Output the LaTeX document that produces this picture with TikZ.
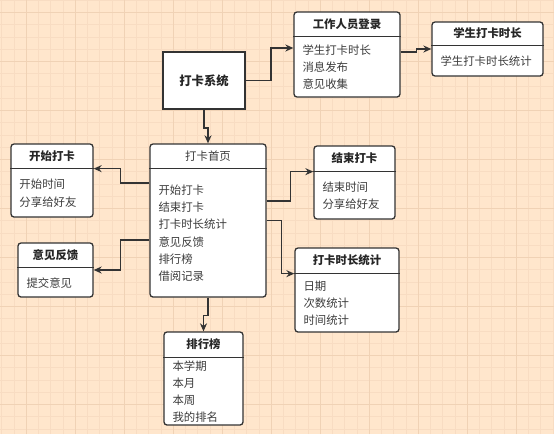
\documentclass[tikz,border=0pt]{standalone}
\usepackage{fontspec}
\setmainfont{Noto Sans CJK SC}
\usetikzlibrary{arrows.meta, positioning, calc}
\definecolor{cpeach}{HTML}{FFE6CC}
\definecolor{cgridlo}{HTML}{F8DCC2}
\definecolor{cgridhi}{HTML}{F0D2B5}
\definecolor{cline}{HTML}{333333}
\definecolor{ctext}{HTML}{3C3C3C}
\tikzset{
  every picture/.style={line width=1.3pt},
  card/.style={draw=cline, fill=white, rounded corners=3pt, line width=1.3pt, inner sep=0pt},
  cardhead/.style={font=\fontsize{11.4pt}{14pt}\selectfont\bfseries, text=black!85, minimum height=24pt, inner sep=0pt},
  cardbody/.style={font=\fontsize{11.4pt}{17.3pt}\selectfont, text=ctext, align=left, anchor=west, inner sep=0pt, xshift=8.5pt},
  rule/.style={draw=cline, line width=1.3pt},
  sysbox/.style={draw=cline, fill=white, line width=2pt, font=\fontsize{12.3pt}{15pt}\selectfont\bfseries, text=black!85},
  arrow/.style={-{Stealth[length=8pt, width=7pt]}, draw=cline, line width=1.3pt},
}

\begin{document}
\begin{tikzpicture}[x=1pt, y=-1pt]
  % canvas with grid
  \fill[cpeach] (0,0) rectangle (554,434);
  \useasboundingbox (0,0) rectangle (554,434);
  \begin{scope}[shift={(26.3,12.4)}]
    \draw[cgridlo, line width=0.7pt, step=12.25pt] (-26.3,421.6) grid (527.7,-12.4);
    \draw[cgridhi, line width=0.8pt, step=49pt] (-26.3,421.6) grid (527.7,-12.4);
  \end{scope}
  % system
  \node[sysbox, minimum width=82pt, minimum height=57pt] (sys) at (204,80.5) {打卡系统};
  % staff login
  \node[card, minimum width=106pt, minimum height=85pt] (login) at (347,54.5) {};
  \node[cardhead, below=0pt of login.north] (login-t) {工作人员登录};
  \draw[rule] (login.west |- login-t.south) -- (login.east |- login-t.south);
  \node[cardbody] (login-b) at ($(login.west |- login-t.south)!.5!(login.south west)$) {学生打卡时长\\消息发布\\意见收集};
  % student duration
  \node[card, minimum width=111pt, minimum height=54pt] (stat) at (487.5,49) {};
  \node[cardhead, minimum height=23pt, below=0pt of stat.north] (stat-t) {学生打卡时长};
  \draw[rule] (stat.west |- stat-t.south) -- (stat.east |- stat-t.south);
  \node[cardbody] (stat-b) at ($(stat.west |- stat-t.south)!.5!(stat.south west)$) {学生打卡时长统计};
  % home page
  \node[card, minimum width=116pt, minimum height=153pt] (home) at (208,220.5) {};
  \node[cardhead, font=\fontsize{11.4pt}{14pt}\selectfont, text=ctext, below=0pt of home.north] (home-t) {打卡首页};
  \draw[rule] (home.west |- home-t.south) -- (home.east |- home-t.south);
  \node[cardbody] (home-b) at ($(home.west |- home-t.south)!.5!(home.south west)$) {开始打卡\\结束打卡\\打卡时长统计\\意见反馈\\排行榜\\借阅记录};
  % start
  \node[card, minimum width=82pt, minimum height=73pt] (start) at (52,180.5) {};
  \node[cardhead, below=0pt of start.north] (start-t) {开始打卡};
  \draw[rule] (start.west |- start-t.south) -- (start.east |- start-t.south);
  \node[cardbody] (start-b) at ($(start.west |- start-t.south)!.5!(start.south west)$) {开始时间\\分享给好友};
  % feedback
  \node[card, minimum width=75pt, minimum height=54pt] (fb) at (55.5,270) {};
  \node[cardhead, below=0pt of fb.north] (fb-t) {意见反馈};
  \draw[rule] (fb.west |- fb-t.south) -- (fb.east |- fb-t.south);
  \node[cardbody] (fb-b) at ($(fb.west |- fb-t.south)!.5!(fb.south west)$) {提交意见};
  % end
  \node[card, minimum width=81pt, minimum height=73pt] (end) at (354.5,182.5) {};
  \node[cardhead, minimum height=25pt, below=0pt of end.north] (end-t) {结束打卡};
  \draw[rule] (end.west |- end-t.south) -- (end.east |- end-t.south);
  \node[cardbody] (end-b) at ($(end.west |- end-t.south)!.5!(end.south west)$) {结束时间\\分享给好友};
  % duration stats
  \node[card, minimum width=104pt, minimum height=84pt] (dur) at (347,290) {};
  \node[cardhead, minimum height=25pt, below=0pt of dur.north] (dur-t) {打卡时长统计};
  \draw[rule] (dur.west |- dur-t.south) -- (dur.east |- dur-t.south);
  \node[cardbody] (dur-b) at ($(dur.west |- dur-t.south)!.5!(dur.south west)$) {日期\\次数统计\\时间统计};
  % ranking
  \node[card, minimum width=79pt, minimum height=93pt] (rank) at (203.5,378.5) {};
  \node[cardhead, minimum height=25pt, below=0pt of rank.north] (rank-t) {排行榜};
  \draw[rule] (rank.west |- rank-t.south) -- (rank.east |- rank-t.south);
  \node[cardbody] (rank-b) at ($(rank.west |- rank-t.south)!.5!(rank.south west)$) {本学期\\本月\\本周\\我的排名};
  % connectors
  \draw[arrow] (sys.east) -- ++(25,0) |- ([yshift=6.5pt]login.west);
  \draw[arrow] ([yshift=2.5pt]login.east) -- ++(16,0) |- (stat.west);
  \draw[arrow] (sys.south) -- ++(0,18) -| (home.north);
  \draw[arrow] ([yshift=37.5pt]home.west) -- ++(-29,0) |- (start.east |- start-t.south);
  \draw[arrow] ([yshift=-19.5pt]home.west) -- ++(-29,0) |- (fb.east);
  \draw[arrow] ([yshift=19.5pt]home.east) -- ++(24,0) |- (end.west |- end-t.south);
  \draw[arrow] (home.east) -- ++(15,0) |- (dur.west |- dur-t.south);
  \draw[arrow] (home.south) -- ++(0,18) -| (rank.north);
\end{tikzpicture}
\end{document}
